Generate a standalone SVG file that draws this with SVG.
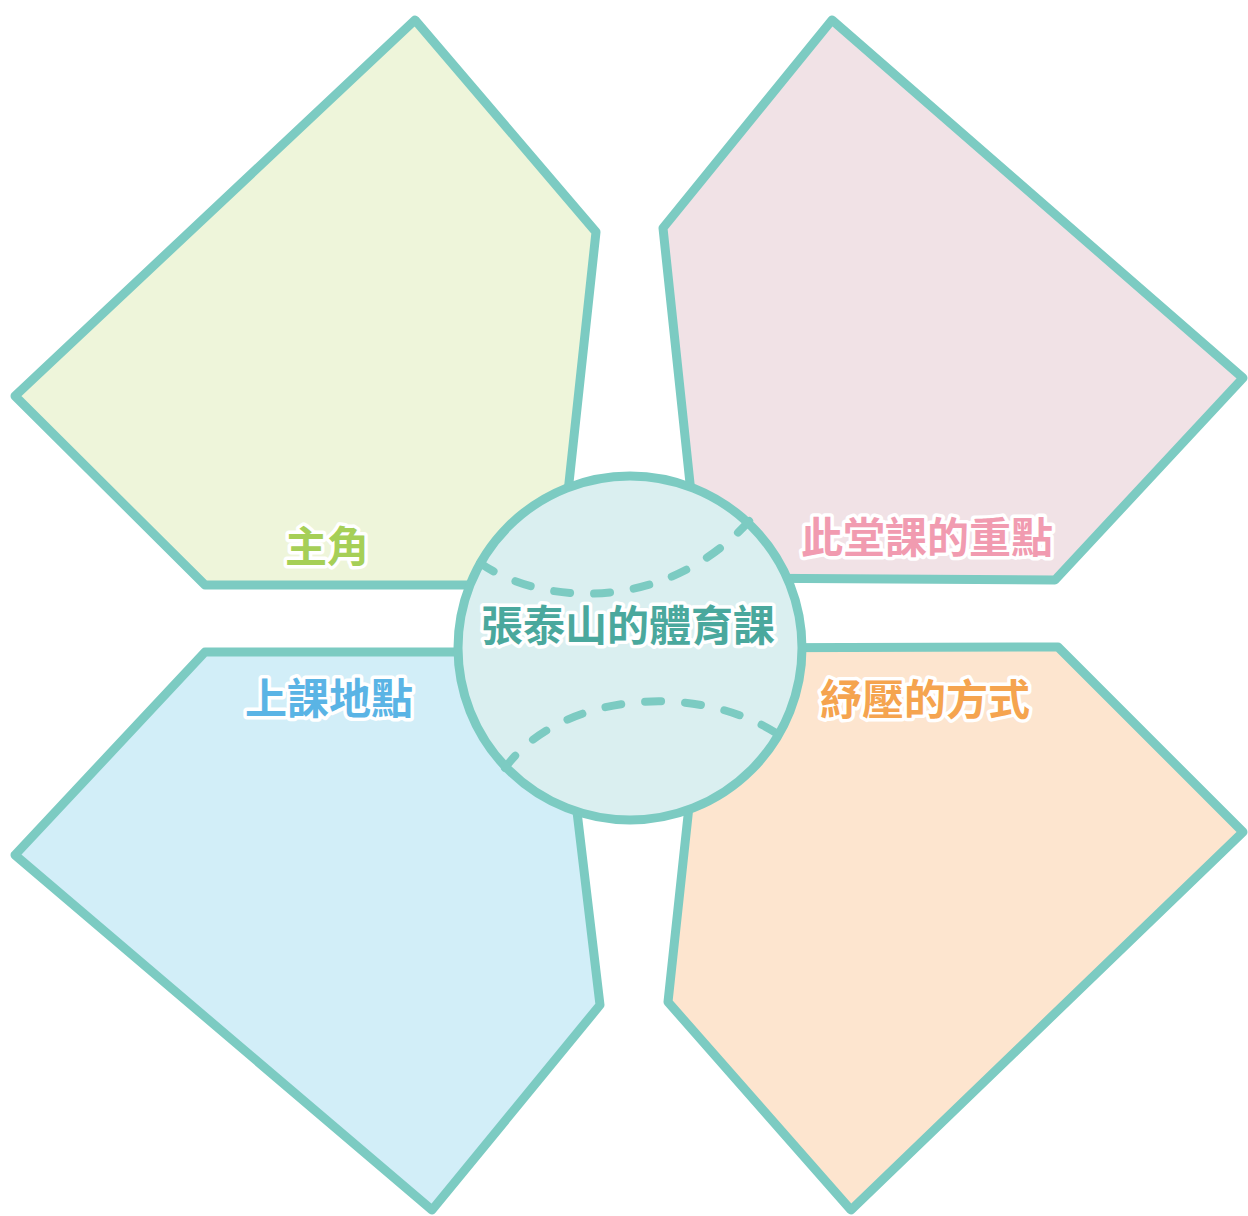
<svg xmlns="http://www.w3.org/2000/svg" width="1248" height="1216" viewBox="0 0 1248 1216">
<style>
.pent{stroke:#7ccbc2;stroke-width:9;stroke-linejoin:round}
.lbl{font-family:"Noto Sans CJK TC","Noto Sans CJK SC",sans-serif;font-weight:bold;font-size:42px;text-anchor:middle;dominant-baseline:central;paint-order:stroke;stroke:#ffffff;stroke-width:7;stroke-linejoin:round}
.seam{fill:none;stroke:#7ccbc2;stroke-width:8;stroke-linecap:round;stroke-dasharray:16 24}
</style>
<rect width="1248" height="1216" fill="#ffffff"/>
<g id="node-main-character">
<polygon class="pent" fill="#eef5da" points="415,20 596,232 558,585 205,585 15,396"/>
<text class="lbl" x="327" y="543" fill="#a6cf57">主角</text>
</g>
<g id="node-focus">
<polygon class="pent" fill="#f1e2e6" points="832,20 1243,378 1055,580 700,578 663,228"/>
<text class="lbl" x="927" y="534" fill="#f19bb0">此堂課的重點</text>
</g>
<g id="node-location">
<polygon class="pent" fill="#d2eef8" points="205,652 558,652 600,1005 432,1210 15,855"/>
<text class="lbl" x="329" y="695" fill="#5ab4e5">上課地點</text>
</g>
<g id="node-stress-relief">
<polygon class="pent" fill="#fde5cf" points="706,648 1058,647 1243,832 851,1210 668,1002"/>
<text class="lbl" x="925" y="696" fill="#f5a44f">紓壓的方式</text>
</g>
<g id="connectors"></g>
<g id="node-center">
<circle cx="630" cy="648" r="172" fill="#daeff0"/>
<path class="seam" d="M 480 563 C 540 605, 665 615, 750 520"/>
<path class="seam" d="M 505 768 C 560 692, 700 680, 782 737"/>
<circle cx="630" cy="648" r="172" fill="none" stroke="#7ccbc2" stroke-width="9"/>
<text class="lbl" x="628" y="622" fill="#4aa89d">張泰山的體育課</text>
</g>
</svg>
